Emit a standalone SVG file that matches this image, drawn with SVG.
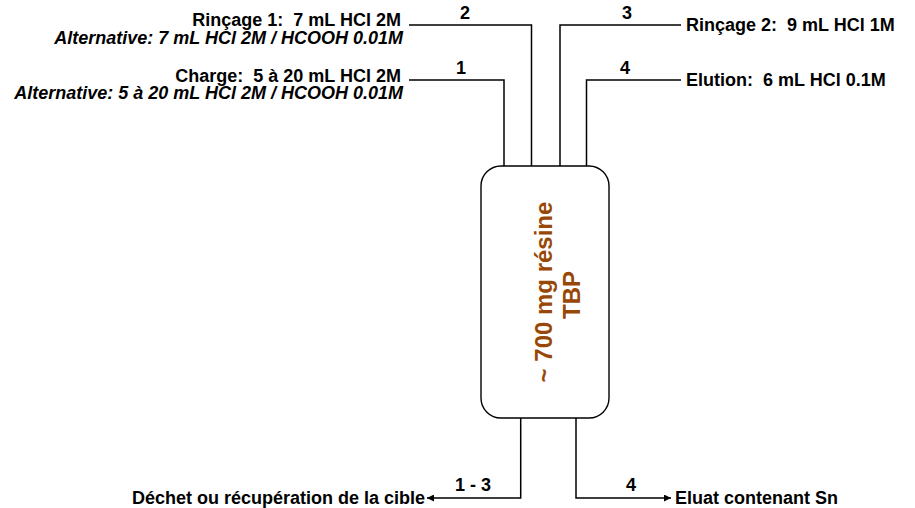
<svg xmlns="http://www.w3.org/2000/svg" width="915" height="508" viewBox="0 0 915 508">
<style>
  text { font-family: "Liberation Sans", Arial, sans-serif; font-weight: bold; font-size: 18px; fill: #000; }
  .it { font-style: italic; }
  .res { font-size: 24px; fill: #984806; }
  .conn { fill: none; stroke: #000; stroke-width: 1.5; }
  .box { fill: #fff; stroke: #000; stroke-width: 1.4; }
</style>
<defs>
  <marker id="arr" viewBox="0 0 10 10" refX="10" refY="5" markerWidth="7" markerHeight="7" markerUnits="userSpaceOnUse" orient="auto">
    <path d="M0,0 L10,5 L0,10 z" fill="#000"/>
  </marker>
</defs>
<rect width="915" height="508" fill="#fff"/>
<g id="connectors">
  <path class="conn" d="M409,25 H531.5 V166"/>
  <path class="conn" d="M409,80 H504 V166"/>
  <path class="conn" d="M681,25 H560 V166"/>
  <path class="conn" d="M681,80 H586.5 V166"/>
  <path class="conn" d="M520.7,418 V498 H427" marker-end="url(#arr)"/>
  <path class="conn" d="M576,418 V498 H671" marker-end="url(#arr)"/>
  <text x="465" y="18.5" text-anchor="middle">2</text>
  <text x="461" y="73.5" text-anchor="middle">1</text>
  <text x="627" y="18.5" text-anchor="middle">3</text>
  <text x="625" y="73.5" text-anchor="middle">4</text>
  <text x="473" y="491" text-anchor="middle">1 - 3</text>
  <text x="631" y="491" text-anchor="middle">4</text>
</g>
<g id="column">
  <rect class="box" x="481" y="166" width="128" height="252" rx="20" ry="20"/>
  <text class="res" transform="translate(552,292) rotate(-90)" text-anchor="middle">~ 700 mg résine</text>
  <text class="res" transform="translate(580,295) rotate(-90)" text-anchor="middle">TBP</text>
</g>
<g id="rincage1">
  <text x="401" y="26" text-anchor="end" xml:space="preserve">Rinçage 1:  7 mL HCl 2M</text>
  <text class="it" x="403" y="44" text-anchor="end">Alternative: 7 mL HCl 2M / HCOOH 0.01M</text>
</g>
<g id="charge">
  <text x="401" y="81.5" text-anchor="end" xml:space="preserve">Charge:  5 à 20 mL HCl 2M</text>
  <text class="it" x="403" y="98.5" text-anchor="end">Alternative: 5 à 20 mL HCl 2M / HCOOH 0.01M</text>
</g>
<g id="rincage2">
  <text x="686" y="31" xml:space="preserve">Rinçage 2:  9 mL HCl 1M</text>
</g>
<g id="elution">
  <text x="686" y="86" xml:space="preserve">Elution:  6 mL HCl 0.1M</text>
</g>
<g id="dechet">
  <text x="425" y="504" text-anchor="end">Déchet ou récupération de la cible</text>
</g>
<g id="eluat">
  <text x="675" y="504">Eluat contenant Sn</text>
</g>
</svg>
